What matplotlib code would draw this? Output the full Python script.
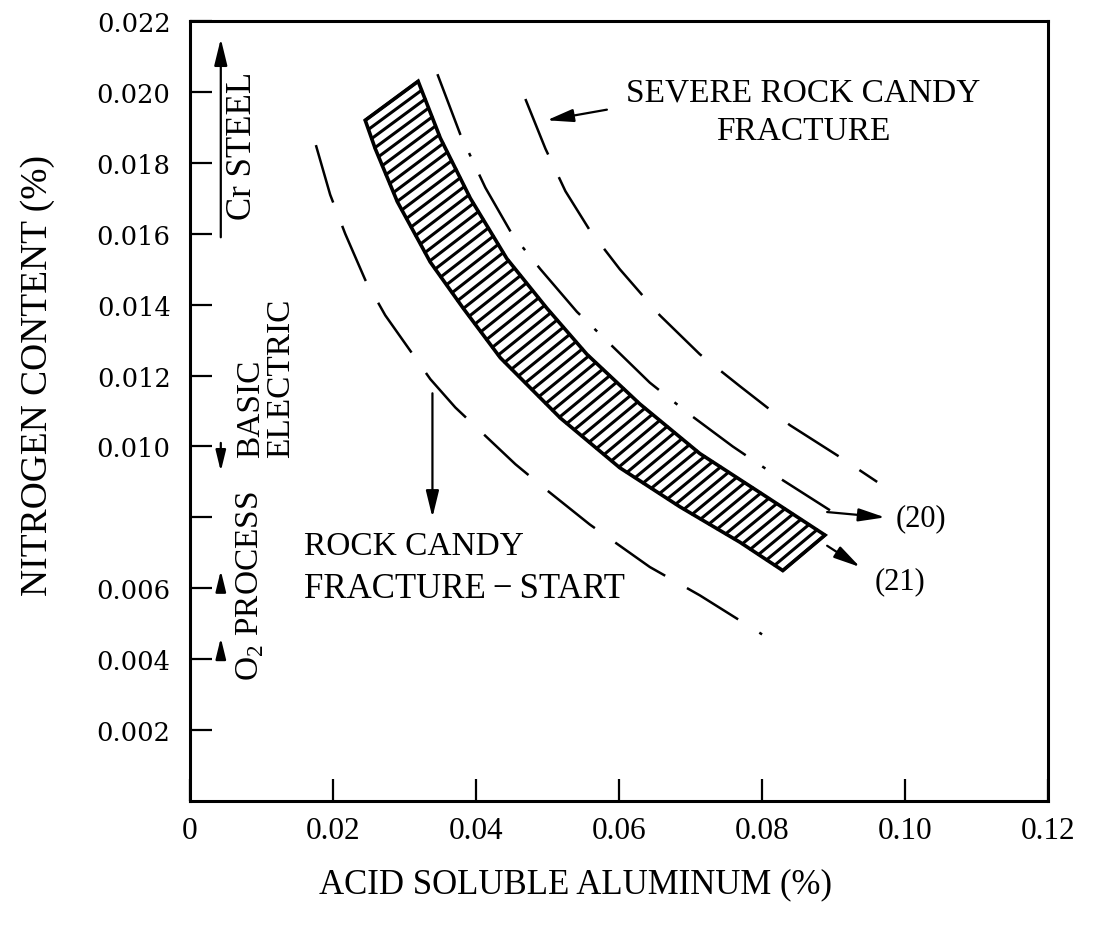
import numpy as np
import matplotlib.pyplot as plt
from matplotlib.patches import Polygon

plt.rcParams['font.family'] = ['Liberation Serif', 'DejaVu Serif']
plt.rcParams['mathtext.fontset'] = 'custom'
plt.rcParams['mathtext.rm'] = 'Liberation Serif'

# shaded band: upper and lower edge (acid soluble Al %, N %)
band_upper_x = [0.0319, 0.0350, 0.0392, 0.0443, 0.0499, 0.0555, 0.0629, 0.0713, 0.0797, 0.0888]
band_upper_y = [0.0203, 0.0187, 0.0170, 0.0153, 0.0139, 0.0126, 0.0112, 0.0098, 0.0087, 0.0075]
band_lower_x = [0.0245, 0.0259, 0.0290, 0.0336, 0.0382, 0.0434, 0.0518, 0.0601, 0.0685, 0.0769, 0.0829]
band_lower_y = [0.0192, 0.0184, 0.0169, 0.0152, 0.0139, 0.0125, 0.0108, 0.0094, 0.0083, 0.0073, 0.0065]

# rock candy fracture - start (dashed)
start_x = [0.0176, 0.0196, 0.0217, 0.0245, 0.0273, 0.0301, 0.0336, 0.0371,
           0.0413, 0.0455, 0.0497, 0.0559, 0.0643, 0.0713, 0.0800]
start_y = [0.0185, 0.0171, 0.0160, 0.0147, 0.0137, 0.0129, 0.0119, 0.0111,
           0.0103, 0.0095, 0.0088, 0.0078, 0.0066, 0.0058, 0.0047]

# curve (20) (dash-dot)
eq20_x = [0.0346, 0.0378, 0.0413, 0.0450, 0.0490, 0.0541, 0.0592, 0.0643, 0.0699, 0.0759, 0.0825, 0.0895]
eq20_y = [0.0205, 0.0188, 0.0173, 0.0160, 0.0150, 0.0138, 0.0128, 0.0118, 0.0109, 0.0100, 0.0091, 0.0082]

# severe rock candy fracture (dashed)
severe_x = [0.0469, 0.0497, 0.0525, 0.0559, 0.0601, 0.0657, 0.0713, 0.0769, 0.0839, 0.0909, 0.0961]
severe_y = [0.0198, 0.0184, 0.0172, 0.0161, 0.0150, 0.0137, 0.0126, 0.0117, 0.0106, 0.0097, 0.0090]

x_ticks = [0, 0.02, 0.04, 0.06, 0.08, 0.10, 0.12]
x_labels = ['0', '0.02', '0.04', '0.06', '0.08', '0.10', '0.12']
y_ticks = [0.002, 0.004, 0.006, 0.008, 0.010, 0.012, 0.014, 0.016, 0.018, 0.020, 0.022]
y_labels = ['0.002', '0.004', '0.006', '', '0.010', '0.012', '0.014', '0.016', '0.018', '0.020', '0.022']

fig = plt.figure(figsize=(11.03, 9.29), dpi=100)
ax = fig.add_axes([0.1723, 0.1367, 0.7779, 0.8396])
ax.set_xlim(0, 0.12)
ax.set_ylim(0, 0.022)

for s in ax.spines.values():
    s.set_linewidth(2.2)

ax.set_xticks(x_ticks)
ax.set_xticklabels(x_labels, fontsize=22.5, family='Liberation Serif')
ax.set_yticks(y_ticks)
ax.set_yticklabels(y_labels, fontsize=18.5, family='DejaVu Serif')
ax.tick_params(axis='x', direction='in', length=16, width=1.6, pad=11)
ax.tick_params(axis='y', direction='in', length=16, width=1.6, pad=14)

ax.set_xlabel('ACID SOLUBLE ALUMINUM (%)', fontsize=25)
ax.xaxis.label.set_va('center')
ax.xaxis.set_label_coords(0.449, -0.106)
ax.set_ylabel('NITROGEN CONTENT (%)', fontsize=27)
ax.yaxis.label.set_va('center')
ax.yaxis.set_label_coords(-0.177, 0.547)

# curves
ax.plot(start_x, start_y, color='black', lw=1.8, dashes=(24, 10))
ax.plot(severe_x, severe_y, color='black', lw=1.8, dashes=(24, 10))
ax.plot(eq20_x, eq20_y, color='black', lw=1.8, dashes=(26, 8, 1.5, 8))

# hatched band
band = Polygon(np.column_stack([band_upper_x + band_lower_x[::-1],
                                band_upper_y + band_lower_y[::-1]]),
               closed=True, fill=False, lw=2.6, edgecolor='black')
ax.add_patch(band)


def resample(xs, ys, n):
    pts = ax.transData.transform(np.column_stack([xs, ys]))
    seg = np.hypot(*np.diff(pts, axis=0).T)
    s = np.concatenate([[0], np.cumsum(seg)]) / seg.sum()
    t = np.linspace(0, 1, n)
    return np.interp(t, s, xs), np.interp(t, s, ys)


n_hatch = 66
ux, uy = resample(band_upper_x, band_upper_y, n_hatch)
lx, ly = resample(band_lower_x, band_lower_y, n_hatch)
for i in range(n_hatch):
    ax.plot([lx[i], ux[i]], [ly[i], uy[i]], color='black', lw=2.2, solid_capstyle='round')

arrow = dict(arrowstyle='-|>,head_length=0.9,head_width=0.22', color='black',
             lw=1.6, mutation_scale=18, shrinkA=0, shrinkB=0)

# labels and arrows
ax.text(0.0857, 0.0200, 'SEVERE ROCK CANDY', fontsize=24, ha='center', va='center')
ax.text(0.0857, 0.0189, 'FRACTURE', fontsize=24, ha='center', va='center')
ax.annotate('', xy=(0.0499, 0.0192), xytext=(0.0583, 0.0195), arrowprops=arrow)

ax.text(0.0160, 0.0072, 'ROCK CANDY', fontsize=24, ha='left', va='center')
ax.text(0.0160, 0.0060, 'FRACTURE\u2009\u2212\u2009START', fontsize=25, ha='left', va='center')
ax.annotate('', xy=(0.0339, 0.0080), xytext=(0.0339, 0.0115), arrowprops=arrow)

ax.text(0.0987, 0.0080, '(20)', fontsize=22, ha='left', va='center')
ax.annotate('', xy=(0.0972, 0.0080), xytext=(0.0891, 0.00815), arrowprops=arrow)
ax.text(0.0958, 0.0062, '(21)', fontsize=22, ha='left', va='center')
ax.annotate('', xy=(0.0937, 0.0066), xytext=(0.0891, 0.0072), arrowprops=arrow)

# steelmaking ranges on the left
ax.annotate('', xy=(0.0043, 0.0215), xytext=(0.0043, 0.0159), arrowprops=arrow)
ax.text(0.0074, 0.0185, 'Cr STEEL', fontsize=25, rotation=90, ha='center', va='center')
ax.text(0.0085, 0.0097, 'BASIC', fontsize=24, rotation=90, rotation_mode='anchor',
        ha='left', va='center')
ax.text(0.0127, 0.0097, 'ELECTRIC', fontsize=24, rotation=90, rotation_mode='anchor',
        ha='left', va='center')
ax.text(0.0084, 0.0034, r'O$_\mathrm{2}$ PROCESS', fontsize=24, rotation=90,
        rotation_mode='anchor', ha='left', va='center')
small = dict(arrow, mutation_scale=14)
ax.annotate('', xy=(0.0043, 0.0093), xytext=(0.0043, 0.0101), arrowprops=small)
ax.annotate('', xy=(0.0043, 0.0065), xytext=(0.0043, 0.0059), arrowprops=small)
ax.annotate('', xy=(0.0043, 0.0046), xytext=(0.0043, 0.0040), arrowprops=small)

fig.savefig('out.png', dpi=100)
